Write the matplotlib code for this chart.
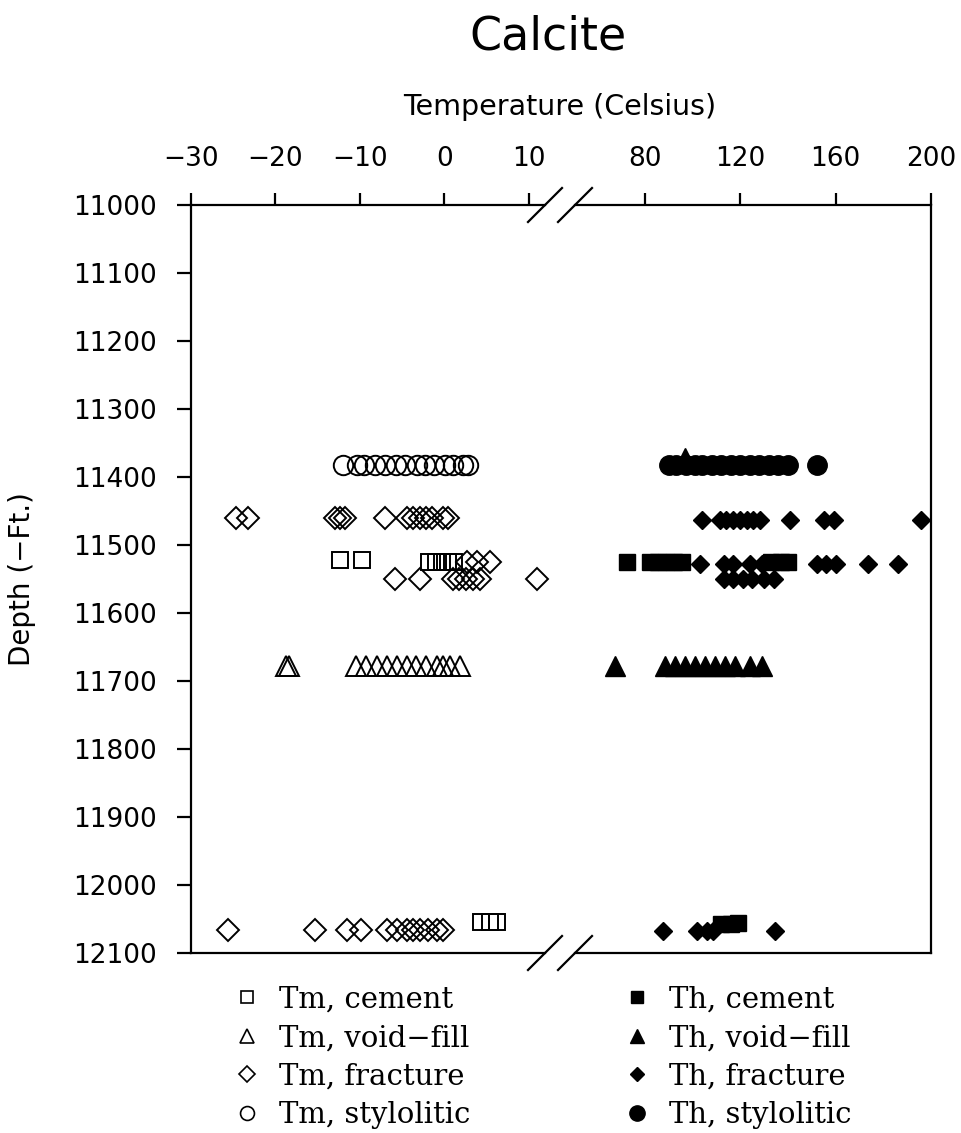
import matplotlib.pyplot as plt
from matplotlib.lines import Line2D

plt.rcParams['font.family'] = 'DejaVu Sans'

# homogenization / melting temperatures of fluid inclusions in calcite
# Tm = final ice melting (left panel), Th = homogenization (right panel)

tm_cement_t = [-12.3, -9.7, -1.8, -1.0, -0.3, 0.4, 1.2, 4.4, 5.4, 6.2]
tm_cement_d = [11522, 11522, 11525, 11525, 11525, 11525, 11525, 12055, 12055, 12055]

tm_void_t = [-18.7, -18.4, -10.4, -9.2, -8.0, -6.8, -5.6, -4.4, -3.3, -2.1, -0.9, -0.1, 0.7, 1.9]
tm_void_d = [11678, 11678, 11678, 11678, 11678, 11678, 11678, 11678, 11678, 11678, 11678, 11678, 11678, 11678]

tm_frac_t = [-24.6, -23.2, -12.9, -12.3, -11.7, -7.0, -4.4, -3.7, -2.9, -2.1, -1.4, -0.2, 0.5,
             2.7, 3.9, 5.4,
             -5.8, -2.9, 1.0, 1.8, 2.6, 3.4, 4.2, 11.0,
             -25.6, -15.3, -11.5, -9.8, -6.8, -5.6, -4.4, -3.7, -2.9, -1.9, -0.9, -0.1]
tm_frac_d = [11460, 11460, 11460, 11460, 11460, 11460, 11460, 11460, 11460, 11460, 11460, 11460, 11460,
             11525, 11525, 11525,
             11550, 11550, 11550, 11550, 11550, 11550, 11550, 11550,
             12066, 12066, 12066, 12066, 12066, 12066, 12066, 12066, 12066, 12066, 12066, 12066]

tm_styl_t = [-12.0, -10.3, -9.5, -8.2, -7.0, -5.7, -4.6, -3.2, -2.3, -1.2, 0.1, 1.0, 2.2, 2.8]
tm_styl_d = [11383, 11383, 11383, 11383, 11383, 11383, 11383, 11383, 11383, 11383, 11383, 11383, 11383, 11383]

th_cement_t = [72.3, 82.0, 85.5, 88.8, 92.0, 95.6, 133.0, 137.0, 140.0, 112.0, 116.0, 119.0]
th_cement_d = [11525, 11525, 11525, 11525, 11525, 11525, 11525, 11525, 11525, 12058, 12058, 12056]

th_void_t = [96.8, 67.4, 88.4, 92.6, 96.8, 101.0, 105.2, 109.4, 113.6, 117.8, 124.0, 129.0]
th_void_d = [11372, 11678, 11678, 11678, 11678, 11678, 11678, 11678, 11678, 11678, 11678, 11678]

th_frac_t = [103.9, 111.6, 114.0, 117.0, 120.0, 122.9, 125.5, 128.4, 141.0, 154.9, 159.2, 195.8,
             103.0, 113.0, 117.0, 124.0, 129.0, 152.0, 156.0, 160.0, 173.5, 186.0,
             113.0, 117.0, 121.0, 125.0, 130.0, 134.0,
             87.6, 101.8, 106.0, 108.6, 134.6]
th_frac_d = [11463, 11463, 11463, 11463, 11463, 11463, 11463, 11463, 11463, 11463, 11463, 11463,
             11528, 11528, 11528, 11528, 11528, 11528, 11528, 11528, 11528, 11528,
             11550, 11550, 11550, 11550, 11550, 11550,
             12068, 12068, 12068, 12068, 12068]

th_styl_t = [90, 93, 97, 101, 104, 108, 112, 116, 120, 124, 128, 132, 136, 140, 152]
th_styl_d = [11383, 11383, 11383, 11383, 11383, 11383, 11383, 11383, 11383, 11383, 11383, 11383, 11383, 11383, 11383]

depth_ticks = [11000, 11100, 11200, 11300, 11400, 11500, 11600, 11700, 11800, 11900, 12000, 12100]
tm_ticks = [-30, -20, -10, 0, 10]
th_ticks = [80, 120, 160, 200]

W, H = 961, 1133
fig = plt.figure(figsize=(W / 100, H / 100), dpi=100)

def box(x0, x1, y0, y1):
    return [x0 / W, 1 - y1 / H, (x1 - x0) / W, (y1 - y0) / H]

ax1 = fig.add_axes(box(190.7, 545, 205, 953))
ax2 = fig.add_axes(box(575, 931, 205, 953))

lw = 1.6
mew = 1.4

# left: melting temps, open symbols
ax1.plot(tm_cement_t, tm_cement_d, ls='none', marker='s', ms=12, mfc='none', mec='k', mew=mew, clip_on=False)
ax1.plot(tm_void_t, tm_void_d, ls='none', marker='^', ms=15, mfc='none', mec='k', mew=mew, clip_on=False)
ax1.plot(tm_frac_t, tm_frac_d, ls='none', marker='D', ms=11, mfc='none', mec='k', mew=mew, clip_on=False)
ax1.plot(tm_styl_t, tm_styl_d, ls='none', marker='o', ms=14, mfc='none', mec='k', mew=mew, clip_on=False)

# right: homogenization temps, filled symbols
ax2.plot(th_cement_t, th_cement_d, ls='none', marker='s', ms=11, mfc='k', mec='k', clip_on=False)
ax2.plot(th_void_t, th_void_d, ls='none', marker='^', ms=14, mfc='k', mec='k', clip_on=False)
ax2.plot(th_frac_t, th_frac_d, ls='none', marker='D', ms=9, mfc='k', mec='k', clip_on=False)
ax2.plot(th_styl_t, th_styl_d, ls='none', marker='o', ms=14, mfc='k', mec='k', clip_on=False)

ax1.set_xlim(-30, 11.93)
ax2.set_xlim(50.6, 200)
for ax in (ax1, ax2):
    ax.set_ylim(12100, 11000)
    ax.xaxis.tick_top()
    ax.tick_params(axis='x', direction='out', length=9, width=lw, labelsize=19, pad=15)
    for s in ax.spines.values():
        s.set_linewidth(lw)

ax1.set_xticks(tm_ticks)
ax2.set_xticks(th_ticks)
ax1.set_yticks(depth_ticks)
ax1.tick_params(axis='y', direction='out', length=10, width=lw, labelsize=19, pad=14)
ax1.spines['right'].set_visible(False)
ax2.spines['left'].set_visible(False)
ax2.set_yticks([])

# axis break marks
d1x, d2x, dy = 17 / 354.3, 17 / 356, 17 / 748
for yy in (0, 1):
    ax1.plot([1 - d1x, 1 + d1x], [yy - dy, yy + dy], color='k', lw=lw,
             transform=ax1.transAxes, clip_on=False)
    ax2.plot([-d2x, d2x], [yy - dy, yy + dy], color='k', lw=lw,
             transform=ax2.transAxes, clip_on=False)

fig.text(548 / W, 1 - 37 / H, 'Calcite', fontsize=33, ha='center', va='center')
fig.text(560 / W, 1 - 107 / H, 'Temperature (Celsius)', fontsize=20.5, ha='center', va='center')
fig.text(22 / W, 1 - 579 / H, 'Depth (\u2212Ft.)', fontsize=20, ha='center', va='center', rotation=90)

handles = [
    Line2D([], [], ls='none', marker='s', ms=9, mfc='none', mec='k', mew=1.2),
    Line2D([], [], ls='none', marker='^', ms=10, mfc='none', mec='k', mew=1.2),
    Line2D([], [], ls='none', marker='D', ms=8, mfc='none', mec='k', mew=1.2),
    Line2D([], [], ls='none', marker='o', ms=10, mfc='none', mec='k', mew=1.2),
    Line2D([], [], ls='none', marker='s', ms=9, mfc='k', mec='k'),
    Line2D([], [], ls='none', marker='^', ms=10, mfc='k', mec='k'),
    Line2D([], [], ls='none', marker='D', ms=7, mfc='k', mec='k'),
    Line2D([], [], ls='none', marker='o', ms=11, mfc='k', mec='k'),
]
labels = ['Tm, cement', 'Tm, void\u2212fill', 'Tm, fracture', 'Tm, stylolitic',
          'Th, cement', 'Th, void\u2212fill', 'Th, fracture', 'Th, stylolitic']
fig.legend(handles, labels, ncol=2, loc='upper left', bbox_to_anchor=(218 / W, 1 - 971 / H),
           frameon=False, borderpad=0, prop={'family': 'DejaVu Serif', 'size': 21},
           handlelength=1.0, handletextpad=0.6, columnspacing=5.2, labelspacing=0.36)

fig.savefig('out.png', dpi=100)
